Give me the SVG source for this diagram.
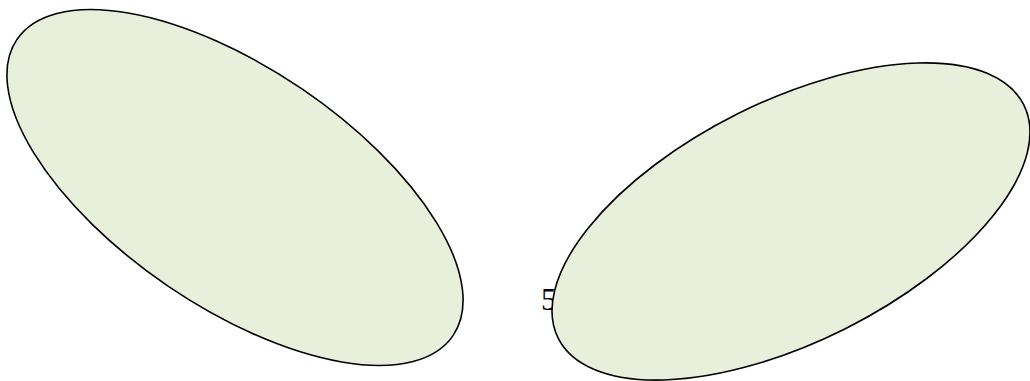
<svg xmlns="http://www.w3.org/2000/svg" width="1030" height="381" viewBox="0 0 1030 381">
<style>
.shape{fill:#e8f0dc;stroke:#000;stroke-width:1.6}
.lbl{font-family:"Liberation Serif",serif;font-size:31px;fill:#000}
</style>
<rect width="1030" height="381" fill="#fff"/>
<g id="node-left">
<ellipse class="shape" cx="235" cy="187.5" rx="263.6" ry="119.2" transform="rotate(34.2 235 187.5)"/>
</g>
<g id="label-5">
<text class="lbl" x="541" y="310">5</text>
</g>
<g id="node-right">
<ellipse class="shape" cx="791" cy="221.5" rx="260.4" ry="120.2" transform="rotate(-26.6 791 221.5)"/>
</g>
<g id="connectors"></g>
</svg>
